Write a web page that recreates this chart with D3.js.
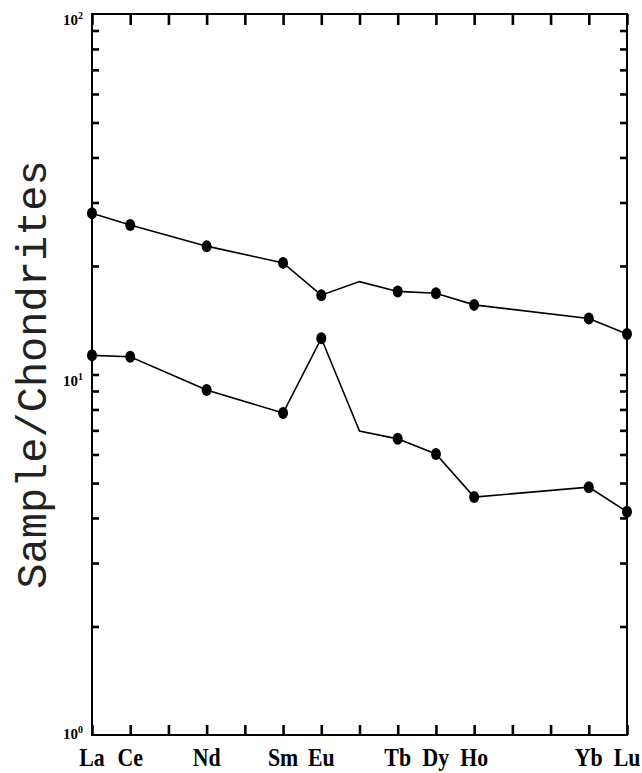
<!DOCTYPE html>
<html>
<head>
<meta charset="utf-8">
<script src="https://cdn.jsdelivr.net/npm/d3@7"></script>
<style>
  html, body { margin: 0; padding: 0; background: #fff; }
  svg { display: block; }
</style>
</head>
<body>
<svg id="chart" width="642" height="773"></svg>
<script>
// REE elements by atomic number, chondrite-normalised values
const elements = ["La", "Ce", "Pr", "Nd", "Pm", "Sm", "Eu", "Gd", "Tb", "Dy", "Ho", "Er", "Tm", "Yb", "Lu"];
const atomicNumbers = [57, 58, 59, 60, 61, 62, 63, 64, 65, 66, 67, 68, 69, 70, 71];
const labeledElements = ["La", "Ce", "Nd", "Sm", "Eu", "Tb", "Dy", "Ho", "Yb", "Lu"];
const seriesElements = ["La", "Ce", "Nd", "Sm", "Eu", "Gd", "Tb", "Dy", "Ho", "Yb", "Lu"];
const markedElements = ["La", "Ce", "Nd", "Sm", "Eu", "Tb", "Dy", "Ho", "Yb", "Lu"];
const upperValues = [28.0, 26.0, 22.7, 20.4, 16.6, 18.1, 17.0, 16.8, 15.6, 14.3, 12.95];
const lowerValues = [11.3, 11.2, 9.06, 7.82, 12.6, 6.97, 6.63, 6.02, 4.57, 4.87, 4.16];
const majorTicks = [1, 10, 100];
const minorTicks = [2, 3, 4, 5, 6, 7, 8, 9, 10, 20, 30, 40, 50, 60, 70, 80, 90];
const yTitle = "Sample/Chondrites";

const z = (name) => atomicNumbers[elements.indexOf(name)];

const svg = d3.select("#chart");
const margin = { top: 14, right: 15, bottom: 38, left: 92 };
const width = 642 - margin.left - margin.right;
const height = 773 - margin.top - margin.bottom;
const g = svg.append("g").attr("transform", `translate(${margin.left},${margin.top})`);

const x = d3.scaleLinear().domain([57, 71]).range([0, width]);
const y = d3.scaleLog().domain([1, 100]).range([height, 0]);

const ink = "#000";
const blank = () => "";

function styleAxis(axis) {
  axis.select(".domain").remove();
  axis.selectAll(".tick line").attr("stroke", ink).attr("stroke-width", 2.6);
}

// element ticks, top and bottom, pointing inward
g.append("g")
  .attr("transform", `translate(0,${height})`)
  .call(d3.axisBottom(x).tickValues(atomicNumbers).tickSizeInner(-10).tickSizeOuter(0).tickFormat(blank))
  .call(styleAxis);
g.append("g")
  .call(d3.axisTop(x).tickValues(atomicNumbers).tickSizeInner(-11).tickSizeOuter(0).tickFormat(blank))
  .call(styleAxis);

// log ticks, left and right, pointing inward
g.append("g")
  .call(d3.axisLeft(y).tickValues(minorTicks).tickSizeInner(-7).tickSizeOuter(0).tickFormat(blank))
  .call(styleAxis);
g.append("g")
  .attr("transform", `translate(${width},0)`)
  .call(d3.axisRight(y).tickValues(minorTicks).tickSizeInner(-7).tickSizeOuter(0).tickFormat(blank))
  .call(styleAxis);

// frame
g.append("rect")
  .attr("x", 0).attr("y", 0).attr("width", width).attr("height", height)
  .attr("fill", "none").attr("stroke", ink).attr("stroke-width", 2);

// element labels
g.append("g")
  .selectAll("text")
  .data(labeledElements)
  .join("text")
  .attr("transform", (d) => `translate(${x(z(d))},${height + 31}) scale(0.84,1)`)
  .attr("text-anchor", "middle")
  .style("font-family", "'Liberation Serif', 'DejaVu Serif', serif")
  .style("font-weight", "bold")
  .style("font-size", "26px")
  .attr("fill", ink)
  .text((d) => d);

// 10^n labels
const powerLabels = g.append("g")
  .selectAll("text")
  .data(majorTicks)
  .join("text")
  .attr("x", -29)
  .attr("y", (d) => Math.min(y(d) + 11, height + 4))
  .style("font-family", "'Liberation Serif', 'DejaVu Serif', serif")
  .style("font-weight", "bold")
  .style("font-size", "15px")
  .attr("fill", ink);
powerLabels.append("tspan").text("10");
powerLabels.append("tspan")
  .attr("dy", -6)
  .style("font-size", "10px")
  .text((d) => Math.round(Math.log10(d)));

// y title
svg.append("text")
  .attr("transform", `translate(46,${margin.top + height / 2}) rotate(-90)`)
  .attr("text-anchor", "middle")
  .style("font-family", "'Liberation Mono', 'DejaVu Sans Mono', monospace")
  .style("font-size", "42px")
  .attr("fill", "#222")
  .text(yTitle);

// series
const line = d3.line()
  .x((d) => x(z(d.el)))
  .y((d) => y(d.v));

[upperValues, lowerValues].forEach((values) => {
  const pts = seriesElements.map((el, i) => ({ el, v: values[i] }));
  g.append("path")
    .attr("d", line(pts))
    .attr("fill", "none")
    .attr("stroke", ink)
    .attr("stroke-width", 1.6);
  g.append("g")
    .selectAll("ellipse")
    .data(pts.filter((p) => markedElements.includes(p.el)))
    .join("ellipse")
    .attr("cx", (d) => x(z(d.el)))
    .attr("cy", (d) => y(d.v))
    .attr("rx", 5)
    .attr("ry", 6)
    .attr("fill", ink);
});
</script>
</body>
</html>
